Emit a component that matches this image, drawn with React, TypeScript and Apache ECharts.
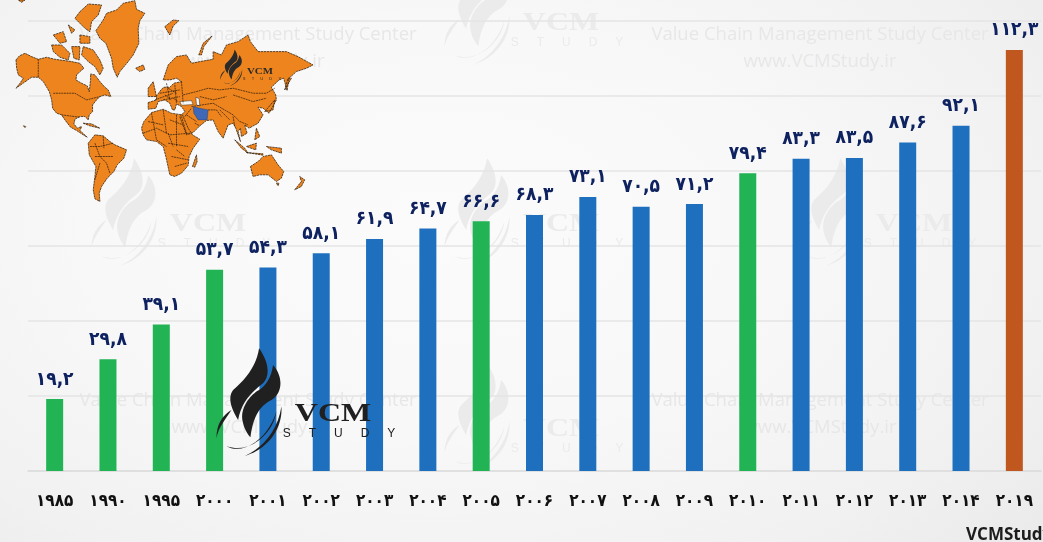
import React, { useEffect, useRef } from "react";
import * as echarts from "echarts";

const yearLabels = ["۱۹۸۵","۱۹۹۰","۱۹۹۵","۲۰۰۰","۲۰۰۱","۲۰۰۲","۲۰۰۳","۲۰۰۴","۲۰۰۵","۲۰۰۶","۲۰۰۷","۲۰۰۸","۲۰۰۹","۲۰۱۰","۲۰۱۱","۲۰۱۲","۲۰۱۳","۲۰۱۴","۲۰۱۹"];
const values = [19.2,29.8,39.1,53.7,54.3,58.1,61.9,64.7,66.6,68.3,73.1,70.5,71.2,79.4,83.3,83.5,87.6,92.1,112.3];
const barKinds = ["g","g","g","g","b","b","b","b","g","b","b","b","b","g","b","b","b","b","o"];
const kindColors: Record<string,string> = { g: "#22b355", b: "#1e70bf", o: "#c0571e" };

const toFa = (v: number) =>
  v.toFixed(1).replace(/\d/g, (d) => "۰۱۲۳۴۵۶۷۸۹"[+d]).replace(".", ",");

const WORLD = [
  // North America
  "M48,180 L58,168 L75,160 L95,170 L115,178 L140,172 L165,178 L195,182 L215,185 L240,190 L252,205 L240,215 L230,225 L228,240 L245,250 L262,258 L268,275 L272,240 L272,222 L285,225 L300,245 L315,262 L325,270 L333,290 L315,285 L300,290 L290,300 L278,315 L278,335 L268,345 L265,360 L255,350 L240,350 L225,358 L222,372 L232,385 L245,380 L240,392 L262,412 L250,405 L230,392 L212,382 L195,360 L185,345 L170,340 L158,325 L155,300 L148,275 L130,245 L115,232 L95,232 L72,248 L48,265 L60,250 L70,235 L55,225 L50,205 Z",
  // South America
  "M265,430 L285,405 L310,408 L330,425 L345,435 L380,450 L372,475 L352,495 L342,515 L322,535 L305,560 L298,580 L300,605 L285,597 L280,570 L285,530 L288,500 L268,465 Z",
  // Greenland
  "M288,92 L310,60 L320,40 L350,30 L370,10 L405,2 L410,28 L435,40 L420,62 L415,85 L417,130 L400,165 L385,185 L360,215 L352,232 L340,205 L335,175 L318,130 L300,115 Z",
  // Arctic islands
  "M240,35 L265,12 L305,15 L295,45 L275,65 L270,95 L255,85 L240,70 L225,55 Z",
  "M250,140 L280,150 L300,180 L310,205 L300,225 L285,200 L265,185 L245,165 Z",
  "M155,135 L185,135 L210,160 L205,180 L180,172 L160,155 Z",
  "M215,140 L240,140 L238,180 L222,175 Z",
  "M160,105 L190,95 L200,125 L180,130 Z M205,75 L225,90 L215,100 Z M240,105 L270,110 L270,130 L240,130 Z",
  // Iceland, Svalbard, Novaya Zemlya
  "M407,205 L430,195 L435,208 L420,215 Z",
  "M495,80 L520,60 L537,62 L520,78 L510,105 Z",
  "M597,165 L610,130 L637,108 L612,140 L605,165 Z",
  // Eurasia
  "M445,308 L470,300 L470,288 L485,268 L492,262 L510,262 L522,250 L545,245 L530,235 L510,240 L490,240 L505,195 L530,170 L560,165 L575,190 L600,185 L640,178 L640,155 L665,165 L680,135 L715,125 L745,105 L752,125 L775,155 L820,155 L860,155 L895,170 L940,195 L920,205 L890,215 L868,235 L862,272 L852,235 L838,240 L815,262 L828,285 L830,300 L808,340 L790,325 L775,322 L790,345 L775,370 L748,385 L735,375 L742,400 L725,410 L722,385 L715,395 L722,425 L708,385 L700,370 L685,375 L670,415 L655,395 L640,360 L620,362 L610,370 L600,378 L580,398 L560,405 L540,350 L555,335 L545,320 L530,312 L525,330 L518,330 L510,310 L495,300 L475,305 L468,325 L445,328 Z",
  // Africa
  "M425,385 L432,365 L455,338 L490,328 L515,340 L548,345 L565,385 L578,405 L600,418 L580,445 L568,470 L565,497 L545,520 L525,530 L510,525 L498,470 L490,440 L470,425 L440,420 L430,405 Z",
  // Madagascar, Australia, New Zealand
  "M578,500 L590,465 L592,485 L585,502 Z",
  "M752,500 L775,485 L790,470 L815,465 L835,495 L852,515 L845,535 L830,545 L805,525 L780,525 L760,530 Z",
  "M885,570 L905,545 L900,530 L915,540 L905,560 Z M830,550 L838,550 L835,558 Z",
  // Indonesia, New Guinea
  "M705,420 L735,445 L745,460 L725,445 Z M740,440 L770,430 L768,450 Z M740,458 L790,462 L790,466 Z M800,440 L845,445 L845,460 L815,450 Z",
  // Japan, Korea, UK, Philippines and small islands
  "M855,270 L865,235 L875,235 Z M795,335 L825,300 L820,330 Z M445,265 L460,245 L470,290 L445,290 Z M770,385 L780,410 L765,420 Z",
  "M55,0 L75,0 L65,7 Z M70,378 L78,380 L75,383 Z M250,370 L275,372 L300,385 L270,378 Z",
].join(" ");

const WATER = "M540,305 L575,302 L580,314 L545,316 Z M588,292 L598,296 L600,318 L590,315 Z";

const BORDERS = [
  "M115,178 L115,232 M160,280 L225,280 L260,300 L300,290 M185,345 L240,352",
  "M285,430 L300,470 L320,490 L330,520 M270,440 L300,440 L340,430 M300,490 L285,540 M310,410 L312,445 M285,470 L340,470",
  "M550,285 L590,275 L625,265 L660,270 L700,265 L760,280 L800,280 L825,265 M700,285 L760,305 L800,295",
  "M640,310 L700,345 L720,365 M625,330 L650,330 L665,350 M575,320 L640,310 M600,290 L640,300 L680,290 M660,330 L690,360 M700,350 L705,380 M720,365 L745,375",
  "M480,280 L540,270 M490,300 L540,290 M500,250 L510,300 M525,255 L530,310 M465,300 L520,280 M545,245 L550,310 M505,265 L530,280 M495,285 L515,300 M520,295 L535,305",
  "M430,400 L470,385 L510,405 L570,400 M455,340 L470,420 M490,330 L500,400 M530,345 L530,440 M505,430 L565,440 M515,470 L565,480 M525,500 L560,490 M545,350 L560,400 M445,365 L490,375 M470,420 L500,440 M510,360 L550,375 M530,450 L555,470 M505,400 L520,440",
  "M560,345 L590,365 M555,350 L575,325 M585,370 L600,378",
].join(" ");

const IRAN = "M580,320 L600,325 L625,330 L622,360 L595,360 L582,340 Z";

const FLAMES = [
  "M778,25 C770,80 735,120 700,150 C685,170 690,200 715,240 C725,190 750,160 790,130 C810,110 810,70 778,25 Z",
  "M820,75 C815,110 800,140 770,155 C735,180 720,220 730,250 C735,270 745,285 752,292 C758,240 775,200 815,180 C845,165 855,115 820,75 Z",
  "M650,295 C650,250 670,225 695,210 C675,240 655,265 650,295 Z",
  "M680,318 C720,345 800,310 830,215 C822,280 750,345 680,318 Z",
  "M735,348 C790,325 835,270 845,200 C850,270 800,330 735,348 Z",
].join(" ");

echarts.graphic.registerShape("worldLand", echarts.graphic.extendPath(WORLD, {}));
echarts.graphic.registerShape("worldWater", echarts.graphic.extendPath(WATER, {}));
echarts.graphic.registerShape("worldBorders", echarts.graphic.extendPath(BORDERS, {}));
echarts.graphic.registerShape("worldIran", echarts.graphic.extendPath(IRAN, {}));
echarts.graphic.registerShape("vcmFlames", echarts.graphic.extendPath(FLAMES, {}));

const logo = (x: number, y: number, s: number, color: string, z: number) => ({
  type: "group", x, y, scaleX: s, scaleY: s, silent: true,
  children: [
    { type: "vcmFlames", x: 0, y: 340, scaleX: 1 / 3, scaleY: 1 / 3, z, style: { fill: color } },
    { type: "text", x: 333, y: 412, scaleX: 1.28, z, style: { text: "VCM", font: "bold 25px 'Liberation Serif'", fill: color, textAlign: "center", textVerticalAlign: "middle" } },
    { type: "text", x: 339, y: 433, z, style: { text: "S\u2003\u2002T\u2003\u2002U\u2003\u2002D\u2003\u2002Y", font: "12px 'Liberation Sans'", fill: color, textAlign: "center", textVerticalAlign: "middle" } },
  ],
});

const wmText = (cx: number, y1: number, y2: number) => [
  { type: "text", x: cx, y: y1, z: 0, silent: true, style: { text: "Value Chain Management Study Center", font: "18.5px 'Open Sans'", fill: "#e7e7e8", textAlign: "center", textVerticalAlign: "middle" } },
  { type: "text", x: cx, y: y2, z: 0, silent: true, style: { text: "www.VCMStudy.ir", font: "18.5px 'Open Sans'", fill: "#e7e7e8", textAlign: "center", textVerticalAlign: "middle" } },
];

const WM = "#ebebec";

export default function App() {
  const ref = useRef<HTMLDivElement>(null);
  useEffect(() => {
    const chart = echarts.init(ref.current!, undefined, { renderer: "svg" });
    chart.setOption({
      animation: false,
      backgroundColor: "transparent",
      grid: { left: 28, right: 2, top: 21, bottom: 71 },
      xAxis: {
        type: "category",
        data: yearLabels,
        axisTick: { show: false },
        axisLine: { lineStyle: { color: "#dcdcdc", width: 1.5 } },
        axisLabel: { interval: 0, margin: 20, color: "#111", fontFamily: "DejaVu Sans Condensed", fontWeight: "bold", fontSize: 17 },
      },
      yAxis: {
        type: "value",
        min: 0,
        max: 120,
        interval: 20,
        axisLabel: { show: false },
        axisLine: { show: false },
        axisTick: { show: false },
        splitLine: { lineStyle: { color: "#e5e5e5", width: 1.5 } },
      },
      series: [
        {
          type: "bar",
          barWidth: 17,
          data: values.map((v, i) => ({ value: v, itemStyle: { color: kindColors[barKinds[i]] } })),
          label: {
            show: true,
            position: "top",
            distance: 12,
            formatter: (p: any) => toFa(p.value),
            color: "#0f2260",
            fontFamily: "DejaVu Sans Condensed",
            fontWeight: "bold",
            fontSize: 19,
          },
        },
      ],
      graphic: {
        elements: [
          ...wmText(248, 32, 59),
          ...wmText(820, 32, 59),
          ...wmText(248, 398, 425),
          ...wmText(820, 398, 425),
          logo(228, -391, 1, WM, 0),
          logo(-125, -190, 1, WM, 0),
          logo(228, -190, 1, WM, 0),
          logo(581, -190, 1, WM, 0),
          logo(228, 15, 1, WM, 0),
          {
            type: "group", x: 0, y: 0, scaleX: 1 / 3, scaleY: 1 / 3, silent: true,
            children: [
              { type: "worldLand", z: 20, style: { fill: "#ee841d", stroke: "#241a0d", lineWidth: 2.2, lineDash: [7, 2] } },
              { type: "worldWater", z: 21, style: { fill: "#f8f8f9", stroke: "#241a0d", lineWidth: 1.4 } },
              { type: "worldBorders", z: 21, style: { fill: "none", stroke: "#1c140a", lineWidth: 2, lineDash: [6, 2] } },
              { type: "worldIran", z: 22, style: { fill: "#3f68b8", stroke: "#24375f", lineWidth: 1.2 } },
            ],
          },
          logo(146.7, -69, 0.34, "#2a2a2a", 23),
          logo(0, 0, 1, "#202020", 30),
          { type: "text", x: 966, y: 533, z: 30, silent: true, style: { text: "VCMStudy.ir", font: "bold 17px 'Open Sans'", fill: "#1c1c1c", textAlign: "left", textVerticalAlign: "middle" } },
        ],
      },
    });
    return () => chart.dispose();
  }, []);
  return (
    <div
      ref={ref}
      style={{
        position: "fixed", left: 0, top: 0, width: 1043, height: 542,
        background: "radial-gradient(ellipse 75% 85% at 42% 42%, #fbfbfc 0%, #f8f8f9 45%, #f1f1f2 80%, #ebebec 100%)",
      }}
    />
  );
}
